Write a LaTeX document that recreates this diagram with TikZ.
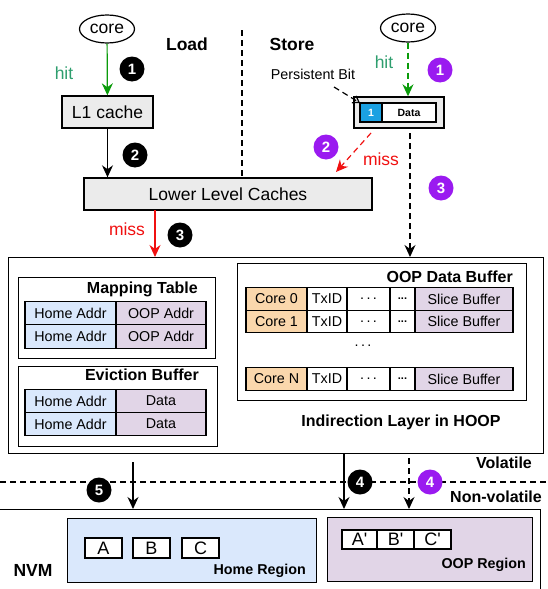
\documentclass[tikz,border=0pt]{standalone}
\usepackage{fontspec}
\setmainfont{Liberation Sans}
\usetikzlibrary{arrows.meta,positioning,calc,shapes.geometric}
\definecolor{HitGreen}{HTML}{0A9B0A}
\definecolor{HitText}{HTML}{2E9E6E}
\definecolor{MissRed}{HTML}{F01010}
\definecolor{StepPurple}{HTML}{9A1AF0}
\definecolor{CacheGray}{HTML}{EBEBEB}
\definecolor{HomeBlue}{HTML}{DAE8FC}
\definecolor{OopPurple}{HTML}{E1D5E7}
\definecolor{CoreOrange}{HTML}{FAD7AC}
\definecolor{BitBlue}{HTML}{1BA1E2}

\begin{document}
\begin{tikzpicture}[x=1pt,y=-1pt,
    box/.style={draw,line width=1.4pt,inner sep=0pt},
    cell/.style={draw,line width=1.2pt,inner sep=0pt,outer sep=0pt,anchor=west,font=\fontsize{14.3}{16}\selectfont},
    badge/.style={circle,fill=black,text=white,inner sep=0pt,minimum size=25pt,font=\bfseries\fontsize{15}{15}\selectfont},
    pbadge/.style={badge,fill=StepPurple},
    arr/.style={-{Stealth[length=12pt,width=11pt]},line width=1.2pt},
    dashline/.style={dash pattern=on 6pt off 4pt},
    heading/.style={inner sep=0pt,font=\bfseries\fontsize{16}{18}\selectfont},
    bigtext/.style={font=\fontsize{17.5}{20}\selectfont}]
  \useasboundingbox (0,0) rectangle (548,589);
  \clip (0,0) rectangle (548,589);

  % load side
  \node[draw,ellipse,line width=1.2pt,minimum width=55pt,minimum height=28pt,inner sep=0pt,bigtext] (coreL) at (107,29) {core};
  \node[box,fill=CacheGray,minimum width=91pt,minimum height=32pt,bigtext] (l1) at (107.5,112) {L1 cache};
  \node[box,fill=CacheGray,minimum width=288pt,minimum height=32pt,bigtext] (llc) at (228,194) {Lower Level Caches};
  \node[bigtext,text=HitText] (hitL) at (64,73) {hit};
  \node[bigtext,text=MissRed] (missL) at (127,229) {miss};
  \node[font=\bfseries\fontsize{17.5}{20}\selectfont] (load) at (187,44) {Load};
  \node[font=\bfseries\fontsize{17.5}{20}\selectfont] (store) at (292,44) {Store};
  \coordinate (divTop) at (242,30);
  \coordinate (divBot) at (242,176);
  \draw[dashline,line width=1.2pt] (divTop) -- (divBot);

  % store side
  \node[draw,ellipse,line width=1.2pt,minimum width=55pt,minimum height=28pt,inner sep=0pt,bigtext] (coreR) at (408,28) {core};
  \node[box,fill=CacheGray,minimum width=90pt,minimum height=31pt] (stbox) at (399,112.5) {};
  \node[cell,fill=BitBlue,text=white,minimum width=22pt,minimum height=19pt,font=\bfseries\fontsize{10.5}{12}\selectfont] (bit) at (360,112.5) {1};
  \node[cell,fill=white,minimum width=54pt,minimum height=19pt,font=\bfseries\fontsize{10.5}{12}\selectfont] (datacell) at (bit.east) {Data};
  \node[font=\fontsize{14.3}{16}\selectfont] (pbit) at (313,74) {Persistent Bit};
  \node[bigtext,text=HitText] (hitR) at (384,62) {hit};
  \node[bigtext,text=MissRed] (missR) at (381,159) {miss};

  % indirection layer
  \node[box,minimum width=535pt,minimum height=196pt,anchor=north west] (ind) at (8,257) {};
  \node[box,minimum width=197pt,minimum height=81pt,anchor=north west] (map) at (18,277) {};
  \node[heading,anchor=east] (mapT) at (198,289) {Mapping Table};
  \node[cell,fill=HomeBlue,minimum width=91pt,minimum height=23.5pt] (map1a) at (25,313) {Home Addr};
  \node[cell,fill=OopPurple,minimum width=90pt,minimum height=23.5pt] (map1b) at (map1a.east) {OOP Addr};
  \node[cell,fill=HomeBlue,minimum width=91pt,minimum height=23.5pt] (map2a) at (25,336.5) {Home Addr};
  \node[cell,fill=OopPurple,minimum width=90pt,minimum height=23.5pt] (map2b) at (map2a.east) {OOP Addr};

  \node[box,minimum width=199pt,minimum height=80pt,anchor=north west] (evb) at (18,366) {};
  \node[heading,anchor=east] (evbT) at (199,375) {Eviction Buffer};
  \node[cell,fill=HomeBlue,minimum width=91pt,minimum height=23pt] (evb1a) at (25,401) {Home Addr};
  \node[cell,fill=OopPurple,minimum width=90pt,minimum height=23pt] (evb1b) at (evb1a.east) {Data};
  \node[cell,fill=HomeBlue,minimum width=91pt,minimum height=23pt] (evb2a) at (25,424) {Home Addr};
  \node[cell,fill=OopPurple,minimum width=90pt,minimum height=23pt] (evb2b) at (evb2a.east) {Data};

  \node[box,minimum width=289pt,minimum height=137pt,anchor=north west] (odb) at (237,263) {};
  \node[heading,anchor=east] (odbT) at (513,277) {OOP Data Buffer};
  \foreach \r/\y/\lbl in {0/299/Core 0,1/321.5/Core 1,n/379/Core N}{
    \node[cell,fill=CoreOrange,minimum width=61pt,minimum height=22.5pt] (core\r) at (246,\y) {\lbl};
    \node[cell,minimum width=40pt,minimum height=22.5pt] (tx\r) at (core\r.east) {TxID};
    \node[cell,minimum width=43pt,minimum height=22.5pt] (dotA\r) at (tx\r.east) {.\,.\,.};
    \node[cell,minimum width=25pt,minimum height=22.5pt,font=\bfseries\fontsize{11}{12}\selectfont] (dotB\r) at (dotA\r.east) {...};
    \node[cell,fill=OopPurple,minimum width=98pt,minimum height=22.5pt] (slice\r) at (dotB\r.east) {Slice Buffer};
  }
  \node[font=\fontsize{14.3}{16}\selectfont] (vdots) at (363,346) {.\,.\,.};
  \node[heading] (indT) at (401,422) {Indirection Layer in HOOP};

  % nvm
  \coordinate (volL) at (0,482);
  \coordinate (volR) at (548,482);
  \draw[dashline,line width=1.2pt] (volL) -- (volR);
  \node[heading] (vol) at (504,463) {Volatile};
  \node[heading] (nvol) at (496,497) {Non-volatile};
  \node[box,minimum width=560pt,minimum height=100pt,anchor=north east] (nvm) at (541,509) {};
  \node[font=\bfseries\fontsize{17.5}{20}\selectfont] (nvmT) at (33,570) {NVM};
  \node[box,fill=HomeBlue,minimum width=249pt,minimum height=64pt,anchor=north west] (home) at (67,518) {};
  \node[cell,fill=white,minimum width=37pt,minimum height=20pt,font=\fontsize{18}{20}\selectfont] (cellA) at (85,548) {A};
  \node[cell,fill=white,minimum width=37pt,minimum height=20pt,font=\fontsize{18}{20}\selectfont] (cellB) at (133,548) {B};
  \node[cell,fill=white,minimum width=37pt,minimum height=20pt,font=\fontsize{18}{20}\selectfont] (cellC) at (182,548) {C};
  \node[heading,anchor=east,font=\bfseries\fontsize{14.3}{16}\selectfont] (homeT) at (306,571) {Home Region};
  \node[box,fill=OopPurple,minimum width=205pt,minimum height=64pt,anchor=north west] (oopr) at (327,517) {};
  \node[cell,fill=white,minimum width=35pt,minimum height=19pt,font=\fontsize{18}{20}\selectfont] (cellA2) at (342,539.5) {A\textquotesingle};
  \node[cell,fill=white,minimum width=37pt,minimum height=19pt,font=\fontsize{18}{20}\selectfont] (cellB2) at (cellA2.east) {B\textquotesingle};
  \node[cell,fill=white,minimum width=37pt,minimum height=19pt,font=\fontsize{18}{20}\selectfont] (cellC2) at (cellB2.east) {C\textquotesingle};
  \node[heading,anchor=east,font=\bfseries\fontsize{14.3}{16}\selectfont] (ooprT) at (526,565) {OOP Region};

  % connectors
  \draw[arr,HitGreen] (coreL) -- (l1);
  \draw[arr] (l1) -- (l1 |- llc.north);
  \coordinate (llcOut) at (155,210);
  \draw[arr,MissRed] (llcOut) -- (llcOut |- ind.north);
  \draw[arr,HitGreen,dashline] (coreR) -- (coreR |- stbox.north);
  \coordinate (pbitEnd) at (334,87);
  \draw[-{Straight Barb[length=6pt,width=8pt]},line width=1.2pt,dashline] (pbitEnd) -- (bit.north west);
  \coordinate (stMiss) at (371,133);
  \coordinate (llcIn) at (336,172);
  \draw[arr,MissRed,dashline] (stMiss) -- (llcIn);
  \coordinate (stOut) at (410,133);
  \draw[arr,dashline] (stOut) -- (stOut |- ind.north);
  \coordinate (evOut) at (133,462);
  \draw[arr] (evOut) -- (evOut |- nvm.north);
  \coordinate (oopIn) at (344,453);
  \draw[arr] (oopIn) -- (oopIn |- nvm.north);
  \coordinate (oopDash) at (409,458);
  \draw[arr,dashline] (oopDash) -- (oopDash |- nvm.north);

  % step badges
  \node[badge] (ld1) at (132,69) {1};
  \node[badge] (ld2) at (135,155) {2};
  \node[badge] (ld3) at (180,235) {3};
  \node[pbadge] (st1) at (440,70) {1};
  \node[pbadge] (st2) at (326,147) {2};
  \node[pbadge] (st3) at (441,188) {3};
  \node[badge] (wb4) at (360,482) {4};
  \node[pbadge] (st4) at (430,482) {4};
  \node[badge] (wb5) at (99,490) {5};
\end{tikzpicture}
\end{document}
